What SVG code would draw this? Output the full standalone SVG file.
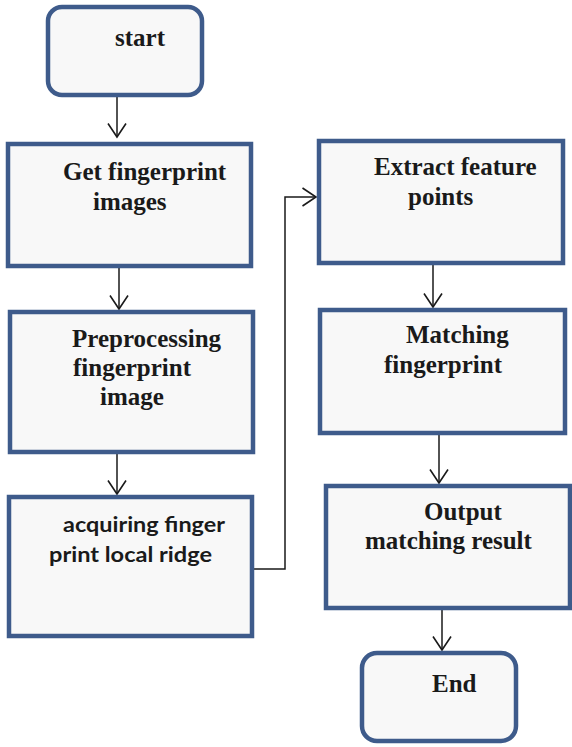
<svg xmlns="http://www.w3.org/2000/svg" width="572" height="747" viewBox="0 0 572 747">
<defs>
<style>
.box{fill:#f8f8f8;stroke:#3e5b8b;stroke-width:4.5}
.t{font-family:"Liberation Serif","Times New Roman",serif;font-weight:bold;font-size:25px;fill:#1a1a1a}
.s{font-family:Lato,"Open Sans",sans-serif;font-weight:bold;font-size:21px;fill:#1a1a1a}
.c{fill:none;stroke:#1a1a1a;stroke-width:1.5}
</style>
<marker id="arr" markerUnits="userSpaceOnUse" viewBox="0 0 16 20" refX="14.5" refY="10" markerWidth="16" markerHeight="20" orient="auto">
<path d="M1,1 L14.5,10 L1,19" fill="none" stroke="#1a1a1a" stroke-width="1.6"/>
</marker>
</defs>
<rect width="572" height="747" fill="#ffffff"/>
<g id="connectors">
<path class="c" d="M117,97 V137" marker-end="url(#arr)"/>
<path class="c" d="M119,268 V309" marker-end="url(#arr)"/>
<path class="c" d="M117,454 V494" marker-end="url(#arr)"/>
<path class="c" d="M254,569 H285 V197 H316" marker-end="url(#arr)"/>
<path class="c" d="M433,265 V307" marker-end="url(#arr)"/>
<path class="c" d="M439,435 V483" marker-end="url(#arr)"/>
<path class="c" d="M442,610 V650" marker-end="url(#arr)"/>
</g>
<g id="start">
<rect class="box" x="48" y="7" width="154" height="88" rx="14"/>
<text class="t" x="115" y="46">start</text>
</g>
<g id="get-images">
<rect class="box" x="8" y="144" width="243" height="122"/>
<text class="t" x="63" y="180">Get fingerprint</text>
<text class="t" x="93" y="210">images</text>
</g>
<g id="preprocessing">
<rect class="box" x="10" y="312" width="243" height="140"/>
<text class="t" x="72" y="347">Preprocessing</text>
<text class="t" x="73" y="376">fingerprint</text>
<text class="t" x="100" y="405">image</text>
</g>
<g id="acquiring">
<rect class="box" x="9" y="497" width="243" height="139"/>
<text class="s" x="63" y="532" textLength="162" lengthAdjust="spacingAndGlyphs">acquiring finger</text>
<text class="s" x="49" y="562" textLength="163" lengthAdjust="spacingAndGlyphs">print local ridge</text>
</g>
<g id="extract">
<rect class="box" x="319" y="141" width="244" height="122"/>
<text class="t" x="374" y="175">Extract feature</text>
<text class="t" x="408" y="205">points</text>
</g>
<g id="matching">
<rect class="box" x="320" y="310" width="245" height="123"/>
<text class="t" x="406" y="343">Matching</text>
<text class="t" x="384" y="373">fingerprint</text>
</g>
<g id="output">
<rect class="box" x="326" y="486" width="244" height="122"/>
<text class="t" x="424" y="520">Output</text>
<text class="t" x="365" y="549">matching result</text>
</g>
<g id="end">
<rect class="box" x="362" y="653" width="154" height="88" rx="15"/>
<text class="t" x="432" y="692">End</text>
</g>
</svg>
